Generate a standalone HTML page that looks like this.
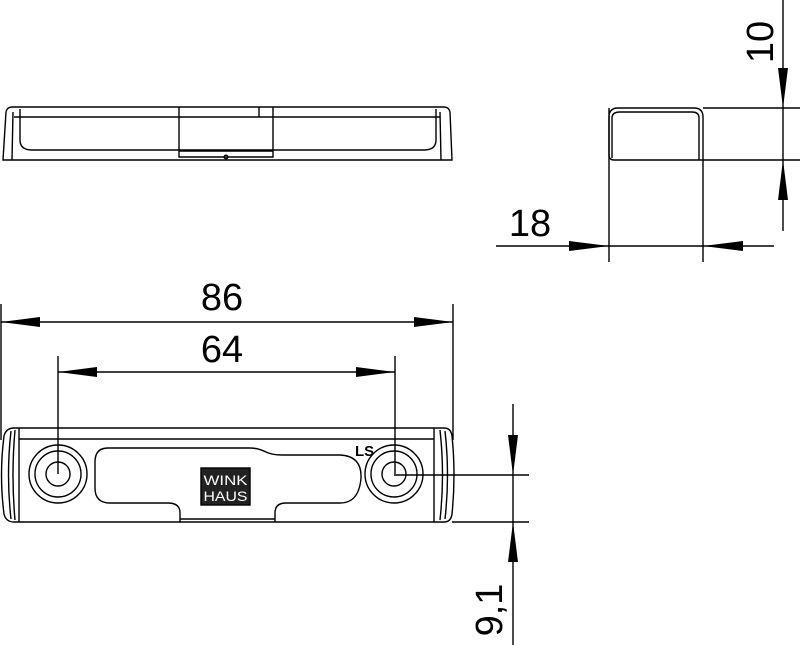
<!DOCTYPE html>
<html><head><style>body{margin:0;background:#fff}svg{display:block}</style></head><body>
<svg width="800" height="645" viewBox="0 0 800 645" xmlns="http://www.w3.org/2000/svg" font-family="'Liberation Sans',sans-serif" fill="none" stroke="#000" stroke-width="1.4">
<!-- top view -->
<path d="M3 160 L6 112 Q7 107 12 107 L444 107 Q449 107 450 112 L452 160 Z"/>
<path d="M12 160 L13 112 M441 160 L440 112"/>
<path d="M20 109 L20 140 Q20 150 32 150 L424 150 Q436 150 436 140 L436 109"/>
<path d="M14 117 L440 117"/>
<path d="M179 107 L179 157 L273 157 L273 107 M259 107 L259 117 M179 151 L273 151"/>
<circle cx="226" cy="157" r="1.8"/>
<!-- side view -->
<path d="M609 117 Q609 108 618 108 L694 108 Q703 108 703 117 L703 160 L614 160 Q609 160 609 155 Z"/>
<path d="M612 158 L612 118 Q612 112 620 112 L692 112 Q699 112 699 118 L699 160"/>
<!-- dim 10 -->
<path d="M703 108 L800 108 M703 160 L800 160 M783 0 L783 231"/>
<polygon points="783,108 778,68 788,68" fill="#000" stroke="none"/>
<polygon points="783,160 778,200 788,200" fill="#000" stroke="none"/>
<text x="0" y="0" transform="translate(773,42) rotate(-90)" font-size="38" fill="#000" stroke="none" text-anchor="middle">10</text>
<!-- dim 18 -->
<path d="M609 108 L609 262 M703 160 L703 262 M496 246 L774 246"/>
<polygon points="609,246 569,241 569,251" fill="#000" stroke="none"/>
<polygon points="703,246 743,241 743,251" fill="#000" stroke="none"/>
<text x="530" y="236" font-size="38" fill="#000" stroke="none" text-anchor="middle">18</text>
<!-- dim 86 -->
<path d="M1 304 L1 440 M453 304 L453 440 M1 322 L453 322"/>
<polygon points="1,322 40,317 40,327" fill="#000" stroke="none"/>
<polygon points="453,322 414,317 414,327" fill="#000" stroke="none"/>
<text x="222" y="310" font-size="38" fill="#000" stroke="none" text-anchor="middle">86</text>
<!-- dim 64 -->
<path d="M58 356 L58 474 M395 356 L395 474 M58 372 L395 372"/>
<polygon points="58,372 97,367 97,377" fill="#000" stroke="none"/>
<polygon points="395,372 356,367 356,377" fill="#000" stroke="none"/>
<text x="222" y="362" font-size="38" fill="#000" stroke="none" text-anchor="middle">64</text>
<!-- bottom view -->
<path d="M14 428 L444 428 Q451 428 452 436 Q456 475 452 514 Q451 522 444 522 L14 522 Q6 522 4 514 Q-1 475 4 436 Q6 428 14 428 Z"/>
<path d="M19 428 L19 522 M434 428 L434 522 M11 431 Q6 475 11 519 M15 430 Q11 475 15 520 M440 430 Q445 475 440 520 M445 431 Q450 475 445 519"/>
<path d="M19 439 L434 439"/>
<path d="M275 522 L275 513 Q275 503 286 503 L340 503 Q359 503 361 478 Q362 456 340 455 L282 455 Q272 455 266 452 Q258 448 250 448 L108 448 Q95 448 95 462 L95 488 Q95 503 110 503 L168 503 Q180 503 180 513 L180 522"/>
<path d="M180 519 L275 519"/>
<circle cx="58" cy="474" r="29"/><circle cx="58" cy="474" r="23"/><circle cx="58" cy="474" r="12"/>
<circle cx="394" cy="474" r="29"/><circle cx="394" cy="474" r="23"/><circle cx="394" cy="474" r="12"/>
<rect x="201" y="468" width="49" height="37" fill="#222"/>
<text x="225.5" y="485" font-size="14" fill="#fff" stroke="none" text-anchor="middle" textLength="44" lengthAdjust="spacingAndGlyphs">WINK</text>
<text x="225.5" y="501" font-size="14" fill="#fff" stroke="none" text-anchor="middle" textLength="44" lengthAdjust="spacingAndGlyphs">HAUS</text>
<text x="355" y="456" font-size="15" fill="#000" stroke="none" font-weight="bold">LS</text>
<!-- dim 9,1 -->
<path d="M394 475 L529 475 M452 522 L529 522 M513 404 L513 645"/>
<polygon points="513,475 508,435 518,435" fill="#000" stroke="none"/>
<polygon points="513,522 508,562 518,562" fill="#000" stroke="none"/>
<text x="0" y="0" transform="translate(502,610) rotate(-90)" font-size="38" fill="#000" stroke="none" text-anchor="middle">9,1</text>
</svg>
</body></html>
